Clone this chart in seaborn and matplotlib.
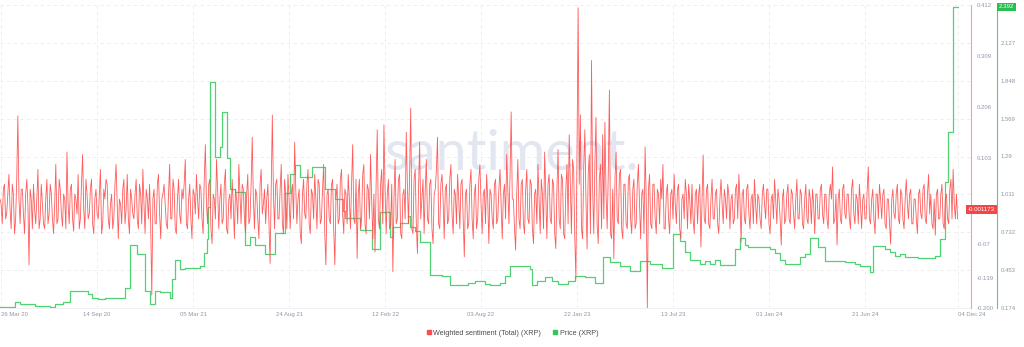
import matplotlib
matplotlib.use("Agg")
import matplotlib.pyplot as plt
import seaborn as sns
import pandas as pd
from matplotlib.lines import Line2D
from matplotlib.ticker import FixedLocator, FixedFormatter

sns.set_theme(style="white")
plt.rcParams['font.family'] = ['Liberation Sans', 'DejaVu Sans']

# ---------------- data ----------------
sent_start = "2020-03-24"   # one reading every 2 days
sentiment = [
    0.02, 0.01, -0.03, 0.04, 0.05, -0.02, -0.01, 0.03, 0.07, 0.00, -0.04, 0.05, 0.03, -0.05, -0.02, 0.06, 0.188, 0.02, -0.03, 0.04,
    0.04, -0.01, -0.05, 0.03, 0.06, 0.01, -0.113, 0.04, 0.02, -0.04, 0.05, 0.00, -0.03, 0.02, 0.08, -0.04, -0.02, 0.05, 0.01, -0.03,
    -0.04, 0.02, 0.06, -0.03, -0.01, 0.05, 0.03, -0.02, -0.05, 0.01, 0.09, -0.03, -0.02, 0.06, 0.04, -0.01, -0.035, 0.03, 0.02, -0.04,
    0.115, 0.01, -0.03, 0.04, 0.05, -0.02, -0.045, 0.03, 0.02, -0.01, 0.07, -0.04, -0.02, 0.05, 0.11, 0.00, -0.04, 0.06, 0.03, -0.02,
    -0.01, 0.04, 0.06, -0.03, -0.05, 0.02, 0.04, -0.01, -0.02, 0.03, 0.08, -0.05, -0.03, 0.04, 0.02, 0.06, 0.05, -0.02, -0.04, 0.01,
    0.03, -0.04, -0.02, 0.05, 0.09, 0.01, -0.06, 0.02, 0.01, -0.03, 0.04, 0.06, -0.03, 0.00, 0.07, -0.02, -0.05, 0.04, 0.02, -0.01,
    -0.02, 0.03, 0.06, -0.02, -0.04, 0.05, 0.03, -0.03, 0.08, 0.01, -0.05, 0.04, 0.02, -0.02, 0.05, -0.03, -0.174, 0.02, 0.04, -0.03,
    -0.03, 0.05, 0.07, -0.01, -0.06, 0.02, 0.03, 0.05, 0.01, -0.03, -0.04, 0.03, 0.09, -0.02, -0.02, 0.06, 0.04, -0.04, -0.05, 0.02,
    0.06, -0.01, -0.03, 0.04, 0.02, 0.05, 0.10, -0.03, -0.04, 0.02, 0.05, -0.02, -0.06, 0.04, 0.03, -0.01, 0.07, 0.02, -0.02, 0.05,
    0.04, -0.02, -0.05, 0.06, 0.13, 0.01, -0.03, 0.05, 0.06, -0.04, -0.07, 0.03, 0.02, -0.02, 0.10, 0.04, -0.04, 0.02, 0.05, -0.03,
    -0.02, 0.05, 0.08, -0.04, -0.05, 0.02, 0.03, -0.02, 0.06, 0.01, -0.06, 0.04, 0.02, -0.03, 0.09, 0.03, -0.03, 0.05, 0.04, -0.02,
    -0.05, 0.03, 0.07, -0.03, -0.02, 0.05, 0.145, 0.02, -0.04, 0.04, 0.03, -0.02, -0.06, 0.05, 0.08, -0.01, 0.01, 0.04, -0.03, 0.02,
    0.05, -0.03, -0.11, 0.04, 0.19, 0.03, -0.04, 0.05, 0.06, -0.02, -0.02, 0.04, 0.09, -0.03, -0.05, 0.06, 0.03, -0.04, 0.07, 0.02,
    -0.04, 0.03, 0.05, -0.02, 0.135, 0.04, -0.03, 0.02, 0.04, -0.05, -0.07, 0.03, 0.06, -0.01, -0.02, 0.05, 0.08, -0.03, -0.05, 0.04,
    0.03, -0.02, 0.07, 0.02, -0.04, 0.06, 0.05, -0.03, -0.02, 0.04, 0.09, -0.05, -0.113, 0.03, 0.04, -0.02, -0.03, 0.05, 0.06, -0.04,
    -0.113, 0.02, 0.05, -0.03, -0.02, 0.06, 0.08, -0.01, -0.05, 0.04, 0.03, -0.03, 0.07, 0.02, -0.04, 0.05, 0.13, -0.02, -0.03, 0.06,
    -0.10, 0.03, 0.06, -0.04, -0.02, 0.07, 0.09, -0.03, -0.05, 0.05, 0.04, -0.02, 0.11, 0.02, -0.06, 0.03, -0.087, 0.05, 0.16, -0.02,
    -0.04, 0.05, 0.08, -0.03, 0.17, 0.04, -0.05, 0.03, 0.06, -0.04, -0.03, 0.05, -0.127, 0.02, 0.10, -0.03, -0.02, 0.06, 0.07, -0.05,
    -0.06, 0.03, 0.04, -0.02, 0.155, 0.05, -0.03, 0.07, 0.204, -0.04, -0.05, 0.06, 0.08, -0.03, -0.09, 0.04, 0.135, -0.02, 0.02, 0.06,
    -0.05, 0.04, 0.10, -0.02, -0.03, 0.05, 0.06, -0.04, -0.07, 0.03, 0.04, 0.08, 0.145, -0.03, -0.04, 0.05, 0.07, 0.02, -0.06, 0.04,
    0.05, -0.03, -0.02, 0.06, 0.09, -0.01, -0.05, 0.04, 0.03, -0.03, 0.07, 0.02, -0.04, 0.05, 0.06, -0.02, -0.097, 0.03, 0.04, -0.04,
    -0.03, 0.05, 0.08, -0.02, -0.06, 0.03, 0.05, -0.04, -0.02, 0.06, 0.09, 0.01, -0.05, 0.03, 0.04, -0.03, 0.07, 0.02, -0.07, 0.04,
    0.03, -0.02, -0.04, 0.05, 0.06, -0.03, -0.02, 0.04, 0.08, 0.01, -0.06, 0.03, 0.05, -0.02, 0.11, 0.04, -0.03, 0.07, 0.196, 0.02,
    0.02, -0.04, -0.083, 0.03, 0.10, -0.02, -0.04, 0.05, 0.06, -0.03, -0.05, 0.04, 0.08, -0.02, -0.03, 0.06, 0.05, -0.04, -0.07, 0.03,
    0.04, -0.03, 0.09, 0.02, -0.05, 0.06, 0.03, -0.04, 0.115, 0.03, -0.06, 0.05, 0.07, -0.02, -0.03, 0.06, 0.05, -0.05, -0.08, 0.04,
    0.12, -0.02, -0.04, 0.07, 0.06, -0.05, -0.06, 0.04, 0.09, -0.03, 0.15, 0.05, -0.05, 0.10, 0.08, -0.06, -0.14, 0.12, 0.406, 0.05,
    0.19, -0.04, -0.06, 0.08, 0.16, 0.02, -0.081, 0.07, 0.11, -0.05, 0.30, 0.04, -0.05, 0.09, 0.185, -0.03, -0.07, 0.06, 0.09, -0.04,
    0.15, -0.02, 0.175, 0.03, -0.04, 0.07, 0.24, -0.05, -0.06, 0.04, -0.10, 0.06, 0.115, -0.02, -0.03, 0.07, 0.08, -0.04, -0.06, 0.05,
    0.05, -0.03, -0.04, 0.06, 0.07, -0.02, -0.05, 0.04, 0.06, -0.04, -0.03, 0.05, 0.09, 0.01, -0.06, 0.03, 0.04, -0.05, 0.125, 0.02,
    -0.20, 0.04, 0.07, -0.03, -0.04, 0.05, 0.05, -0.02, -0.05, 0.04, 0.03, -0.03, 0.06, 0.02, 0.09, -0.04, -0.04, 0.03, 0.05, -0.02,
    -0.05, 0.03, 0.04, -0.02, 0.07, 0.01, -0.03, 0.04, 0.05, -0.04, -0.06, 0.02, 0.03, -0.02, 0.06, 0.03, -0.04, 0.05, 0.02, -0.03,
    0.05, -0.02, -0.05, 0.03, 0.04, -0.03, 0.03, 0.05, -0.077, 0.02, 0.109, -0.02, -0.03, 0.04, 0.05, -0.03, -0.04, 0.02, 0.06, -0.02,
    -0.02, 0.03, 0.04, -0.03, -0.05, 0.02, 0.06, 0.01, -0.03, 0.04, 0.02, -0.02, 0.05, 0.03, -0.04, 0.02, 0.03, -0.03, -0.02, 0.04,
    0.05, -0.02, 0.07, 0.02, -0.067, 0.03, 0.04, -0.02, -0.03, 0.04, 0.05, -0.01, -0.04, 0.02, 0.03, -0.03, 0.06, 0.01, -0.03, 0.03,
    0.02, -0.02, -0.04, 0.03, 0.05, 0.01, -0.02, 0.04, 0.04, -0.03, -0.05, 0.02, 0.03, -0.02, 0.06, 0.02, -0.03, 0.04, 0.02, -0.02,
    -0.073, 0.02, 0.04, -0.03, -0.02, 0.03, 0.05, -0.02, -0.03, 0.04, 0.03, -0.01, -0.04, 0.02, 0.06, -0.02, -0.02, 0.04, 0.03, -0.03,
    -0.04, 0.02, 0.05, -0.02, -0.03, 0.04, 0.02, -0.03, 0.04, 0.01, -0.05, 0.03, 0.03, -0.02, -0.02, 0.04, 0.05, -0.01, -0.03, 0.03,
    0.03, -0.02, -0.04, 0.03, 0.05, 0.02, 0.085, -0.03, -0.02, 0.03, -0.073, 0.02, 0.04, -0.02, -0.03, 0.04, 0.05, -0.01, -0.02, 0.03,
    0.03, -0.02, -0.04, 0.04, 0.06, -0.01, -0.03, 0.03, 0.02, -0.03, 0.05, 0.01, -0.04, 0.02, 0.03, -0.02, -0.02, 0.04, 0.085, -0.02,
    -0.03, 0.02, 0.04, -0.02, -0.05, 0.03, 0.03, -0.02, 0.05, 0.02, -0.02, 0.03, 0.04, -0.03, -0.04, 0.02, 0.02, -0.03, -0.071, 0.02,
    0.04, -0.01, -0.02, 0.03, 0.05, -0.02, -0.03, 0.04, 0.03, -0.02, -0.04, 0.02, 0.06, 0.01, -0.02, 0.03, 0.04, -0.03, -0.03, 0.02,
    0.02, -0.02, -0.05, 0.03, 0.04, -0.01, -0.02, 0.04, 0.05, -0.02, -0.03, 0.03, 0.07, -0.01, 0.03, -0.03, -0.04, 0.02, -0.053, 0.03,
    0.04, -0.02, -0.02, 0.03, 0.05, -0.03, -0.04, 0.02, 0.03, -0.02, -0.03, 0.04, 0.06, -0.02, 0.08, 0.01, -0.02, 0.03, -0.02,
]

price_dates = [
    "2020-03-24", "2020-04-20", "2020-04-29", "2020-05-26", "2020-06-22", "2020-07-01",
    "2020-07-15", "2020-07-28", "2020-08-29", "2020-09-05", "2020-09-16", "2020-09-28",
    "2020-11-03", "2020-11-12", "2020-11-25", "2020-12-09", "2020-12-18", "2020-12-27",
    "2021-01-05", "2021-01-23", "2021-01-26", "2021-02-01", "2021-02-10", "2021-02-19",
    "2021-03-17", "2021-03-24", "2021-03-30", "2021-04-01", "2021-04-04", "2021-04-13",
    "2021-04-22", "2021-04-26", "2021-05-05", "2021-05-10", "2021-05-20", "2021-06-06",
    "2021-06-15", "2021-06-24", "2021-07-12", "2021-07-30", "2021-08-17", "2021-08-26",
    "2021-09-04", "2021-09-13", "2021-10-04", "2021-10-27", "2021-11-14", "2021-11-29",
    "2021-12-02", "2021-12-29", "2022-01-20", "2022-02-03", "2022-02-21", "2022-02-26",
    "2022-03-11", "2022-03-25", "2022-03-29", "2022-04-07", "2022-04-16", "2022-05-04",
    "2022-05-25", "2022-06-08", "2022-07-11", "2022-07-24", "2022-08-10", "2022-08-19",
    "2022-09-06", "2022-09-15", "2022-09-24", "2022-10-30", "2022-11-02", "2022-11-11",
    "2022-11-26", "2022-12-08", "2022-12-19", "2023-01-06", "2023-01-18", "2023-02-05",
    "2023-02-23", "2023-03-10", "2023-03-22", "2023-04-09", "2023-04-27", "2023-05-15",
    "2023-06-02", "2023-06-23", "2023-07-13", "2023-07-26", "2023-08-04", "2023-08-13",
    "2023-08-30", "2023-09-08", "2023-09-17", "2023-09-26", "2023-10-05", "2023-11-01",
    "2023-11-10", "2023-11-19", "2023-11-24", "2024-01-03", "2024-01-12", "2024-01-21",
    "2024-01-30", "2024-02-26", "2024-03-06", "2024-03-15", "2024-03-28", "2024-04-11",
    "2024-05-16", "2024-06-03", "2024-06-12", "2024-06-30", "2024-07-05", "2024-07-27",
    "2024-08-05", "2024-08-14", "2024-08-23", "2024-09-01", "2024-09-24", "2024-10-25",
    "2024-11-03", "2024-11-12", "2024-11-17", "2024-11-26", "2024-12-04",
]
price_values = [
    0.18, 0.22, 0.20, 0.19, 0.18, 0.20,
    0.22, 0.30, 0.28, 0.25, 0.24, 0.25,
    0.32, 0.64, 0.57, 0.30, 0.20, 0.30,
    0.29, 0.25, 0.39, 0.53, 0.46, 0.47,
    0.48, 0.58, 0.68, 0.92, 1.84, 1.29,
    1.36, 1.62, 1.28, 1.05, 1.03, 0.64,
    0.70, 0.64, 0.57, 0.73, 1.02, 1.16,
    1.23, 1.14, 1.21, 1.05, 0.98, 0.89,
    0.84, 0.75, 0.61, 0.88, 0.70, 0.77,
    0.80, 0.85, 0.77, 0.74, 0.66, 0.42,
    0.41, 0.34, 0.36, 0.37, 0.35, 0.34,
    0.36, 0.41, 0.48, 0.46, 0.34, 0.37,
    0.40, 0.37, 0.35, 0.37, 0.41, 0.40,
    0.36, 0.55, 0.51, 0.48, 0.45, 0.52,
    0.50, 0.47, 0.72, 0.67, 0.59, 0.53,
    0.50, 0.52, 0.50, 0.53, 0.49, 0.61,
    0.69, 0.64, 0.62, 0.61, 0.58, 0.53,
    0.50, 0.55, 0.57, 0.69, 0.62, 0.52,
    0.51, 0.50, 0.48, 0.44, 0.63, 0.61,
    0.59, 0.56, 0.57, 0.55, 0.54, 0.56,
    0.68, 1.10, 1.47, 2.392, 2.392,
]

tick_dates = ["2020-03-26", "2020-09-14", "2021-03-05", "2021-08-24", "2022-02-12",
              "2022-08-03", "2023-01-22", "2023-07-13", "2024-01-01", "2024-06-21",
              "2024-12-04"]
price_ticks = [0.174, 0.453, 0.732, 1.011, 1.29, 1.569, 1.848, 2.127, 2.406]
price_tick_labels = ["0.174", "0.453", "0.732", "1.011", "1.29", "1.569", "1.848", "2.127", "2.406"]
sent_ticks = [-0.200, -0.139, -0.07, 0.103, 0.206, 0.309, 0.412]
sent_tick_labels = ["-0.200", "-0.139", "-0.07", "0.103", "0.206", "0.309", "0.412"]
last_sent = -0.001173
last_price = 2.392

sent_df = pd.DataFrame({"date": pd.date_range(sent_start, periods=len(sentiment), freq="2D"),
                        "value": sentiment})
price_df = pd.DataFrame({"date": pd.to_datetime(price_dates), "value": price_values})

# ---------------- style ----------------
RED = "#ff5252"
RED_AX = "#ff9a9a"
GREEN = "#4fd272"
GREEN_TAG = "#26c04e"
LABEL = "#8f98aa"
GRID = "#ebebeb"

fig = plt.figure(figsize=(10.24, 3.47), dpi=100)
ax = fig.add_axes([0.0, 39 / 347, 971 / 1024, 303 / 347])

# watermark
ax.text(0.527, 0.455, "santiment.", transform=ax.transAxes, ha="center", va="baseline",
        fontsize=40, color="#e2e6f0", family=["Lato", "DejaVu Sans"], zorder=0)

# price (bottom layer)
sns.lineplot(data=price_df, x="date", y="value", ax=ax, color=GREEN, lw=0.9,
             drawstyle="steps-post", estimator=None, zorder=2)
ax.set_ylim(0.174, 2.406)
ax.set_xlim(pd.Timestamp("2020-03-24"), pd.Timestamp("2024-12-28"))
ax.set_xticks(pd.to_datetime(tick_dates))
ax.set_xticklabels([pd.Timestamp(d).strftime("%d %b %y") for d in tick_dates])
xl = ax.get_xticklabels()
xl[0].set_ha("left")
xl[-1].set_ha("left")
ax.tick_params(axis="x", length=0, pad=3, labelsize=4.3, labelcolor=LABEL)
ax.grid(True, color=GRID, lw=0.6, ls=(0, (4, 4)))
ax.set_xlabel("")
ax.set_ylabel("")

# sentiment (top layer)
ax2 = ax.twinx()
sns.lineplot(data=sent_df, x="date", y="value", ax=ax2, color=RED, lw=0.6,
             estimator=None, alpha=0.95)
ax2.set_ylim(-0.200, 0.412)
ax2.yaxis.set_major_locator(FixedLocator(sent_ticks))
ax2.yaxis.set_major_formatter(FixedFormatter(sent_tick_labels))
ax2.tick_params(axis="y", length=0, pad=4, labelsize=4.3, labelcolor=LABEL)
ax2.set_ylabel("")
ax2.set_xlabel("")
for s in ["left", "top", "bottom"]:
    ax2.spines[s].set_visible(False)
ax2.spines["right"].set_color(RED_AX)
ax2.spines["right"].set_linewidth(0.8)

# price axis on the far right (after twinx, which resets tick side)
ax.yaxis.tick_right()
ax.yaxis.set_label_position("right")
ax.yaxis.set_major_locator(FixedLocator(price_ticks))
ax.yaxis.set_major_formatter(FixedFormatter(price_tick_labels))
ax.tick_params(axis="y", length=0, pad=2.5, labelsize=4.3, labelcolor=LABEL,
               right=True, left=False, labelright=True, labelleft=False)
for s in ["left", "top"]:
    ax.spines[s].set_visible(False)
ax.spines["bottom"].set_color("#eeeeee")
ax.spines["bottom"].set_linewidth(0.6)
ax.spines["right"].set_position(("outward", 26 * 72 / 100))
ax.spines["right"].set_color(GREEN)
ax.spines["right"].set_linewidth(0.8)

# value tags on the axes
ax2.annotate(f"{last_sent:.6f}", xy=(1.0, last_sent),
             xycoords=ax2.get_yaxis_transform(), xytext=(-2, 0), textcoords="offset points",
             ha="left", va="center", fontsize=4.4, color="white",
             bbox=dict(boxstyle="square,pad=0.3", fc="#f04848", ec="none"), zorder=10)
ax.annotate(f"{last_price:.3f}", xy=(1.0, last_price),
            xycoords=ax.get_yaxis_transform(), xytext=(20.0, 0), textcoords="offset points",
            ha="left", va="center", fontsize=4.4, color="white",
            bbox=dict(boxstyle="square,pad=0.3", fc=GREEN_TAG, ec="none"),
            annotation_clip=False, zorder=10)

# legend
handles = [Line2D([], [], marker="s", ls="", color="#ff4b4b", markersize=3.2,
                  label="Weighted sentiment (Total) (XRP)"),
           Line2D([], [], marker="s", ls="", color="#2fc85a", markersize=3.2,
                  label="Price (XRP)")]
fig.legend(handles=handles, loc="center", bbox_to_anchor=(512 / 1024, 1 - 333 / 347),
           ncol=2, frameon=False, fontsize=5.2, handletextpad=0.2, columnspacing=1.6,
           handlelength=0.8, labelcolor="#4d4d4d")

fig.savefig("out.png", dpi=100)
